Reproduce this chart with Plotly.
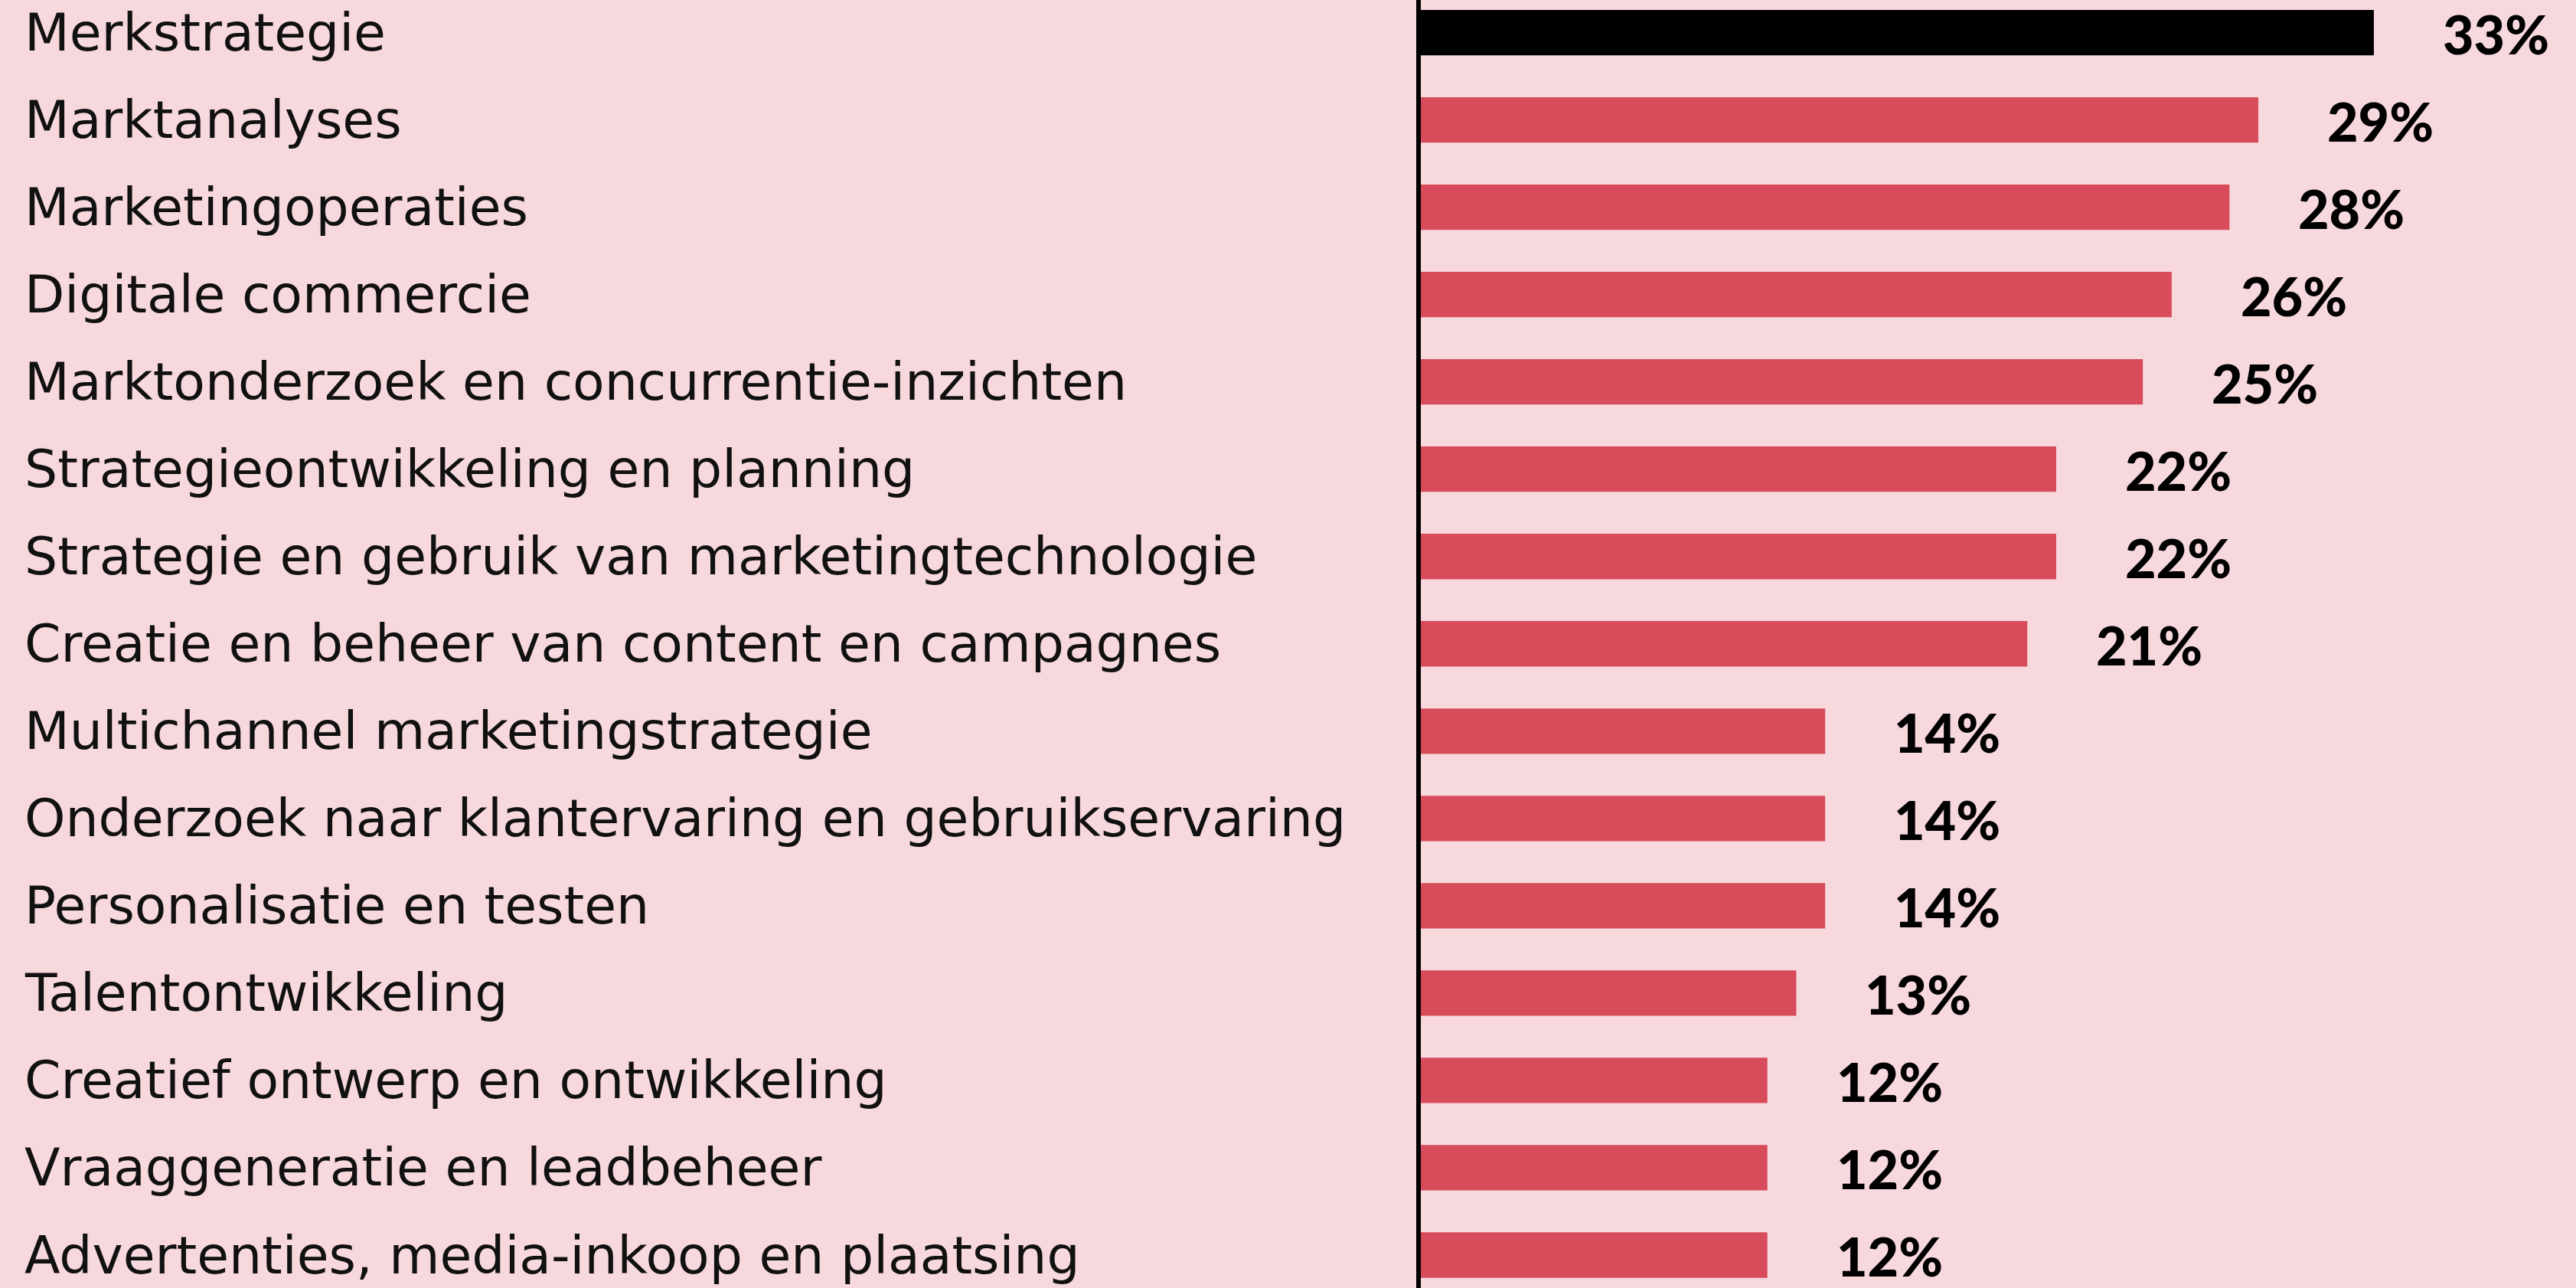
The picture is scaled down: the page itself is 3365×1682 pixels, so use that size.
import plotly.graph_objects as go

categories = [
    "Merkstrategie",
    "Marktanalyses",
    "Marketingoperaties",
    "Digitale commercie",
    "Marktonderzoek en concurrentie-inzichten",
    "Strategieontwikkeling en planning",
    "Strategie en gebruik van marketingtechnologie",
    "Creatie en beheer van content en campagnes",
    "Multichannel marketingstrategie",
    "Onderzoek naar klantervaring en gebruikservaring",
    "Personalisatie en testen",
    "Talentontwikkeling",
    "Creatief ontwerp en ontwikkeling",
    "Vraaggeneratie en leadbeheer",
    "Advertenties, media-inkoop en plaatsing",
]
values = [33, 29, 28, 26, 25, 22, 22, 21, 14, 14, 14, 13, 12, 12, 12]
value_labels = [f"{v}%" for v in values]

BG = "#F6D8DD"
RED = "#D84B5B"
colors = ["#000000"] + [RED] * (len(values) - 1)

W, H = 3365, 1682
LEFT = 1856

fig = go.Figure(go.Bar(
    x=values, y=categories, orientation="h",
    marker=dict(color=colors, line=dict(width=0)),
    width=0.52, hoverinfo="skip",
))

annotations = []
for c, lab, v in zip(categories, value_labels, values):
    annotations.append(dict(
        x=v, y=c, xref="x", yref="y", text=lab, showarrow=False,
        xanchor="left", yanchor="middle", xshift=88, yshift=-1,
        font=dict(family="Lato", size=70, color="#000000", weight=900),
    ))
    annotations.append(dict(
        x=(30 - LEFT) / (W - LEFT), y=c, xref="paper", yref="y", text=c,
        showarrow=False, xanchor="left", yanchor="middle",
        font=dict(family="DejaVu Sans", size=68, color="#111111"),
    ))

fig.update_layout(
    width=W, height=H,
    margin=dict(l=LEFT, r=0, t=0, b=0),
    paper_bgcolor=BG, plot_bgcolor=BG,
    showlegend=False,
    annotations=annotations,
    xaxis=dict(range=[0, 40], visible=False, fixedrange=True),
    yaxis=dict(
        range=[14.377, -0.373], showticklabels=False, ticks="",
        showgrid=False, zeroline=False,
        showline=True, linecolor="#000000", linewidth=6,
        fixedrange=True,
    ),
)

fig.write_html("out.html", config={"displayModeBar": False},
               post_script="document.body.style.margin='0';document.body.style.overflow='hidden';")
